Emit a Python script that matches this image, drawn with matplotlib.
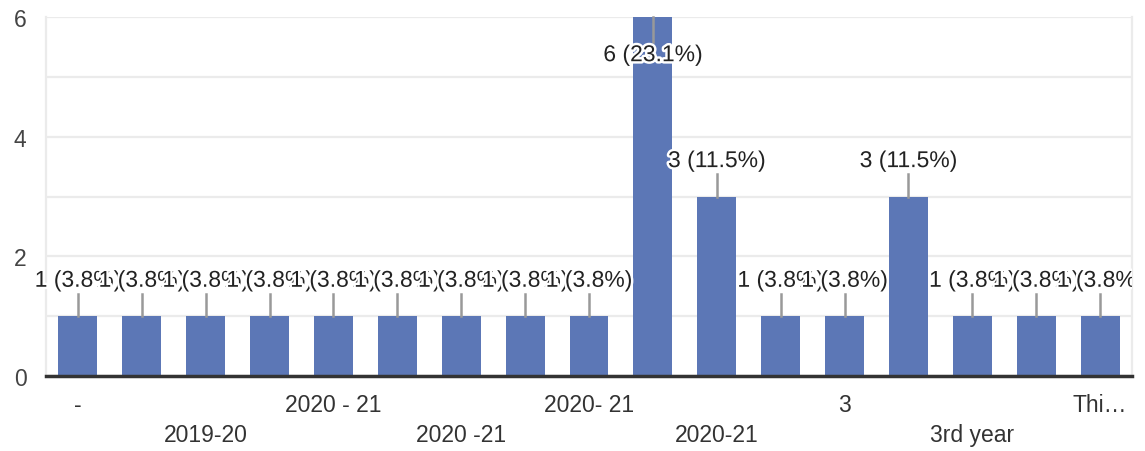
import matplotlib.pyplot as plt
import matplotlib.patheffects as pe
from matplotlib.transforms import Bbox, TransformedBbox
import numpy as np

plt.rcParams['font.family'] = ['Liberation Sans', 'DejaVu Sans']

# data
categories = ["-", "2019", "2019-20", "2020", "2020 - 21", "2020 - 2021", "2020 -21", "2020 -2021",
              "2020- 21", "2020-2021", "2020-21", "2021", "3", "3rd", "3rd year", "Third", "Thi…"]
counts = [1, 1, 1, 1, 1, 1, 1, 1, 1, 6, 3, 1, 1, 3, 1, 1, 1]
total = sum(counts)

bar_color = '#5c77b6'
x = np.arange(len(counts))

fig = plt.figure(figsize=(11.45, 4.52), dpi=100)
ax = fig.add_axes([46 / 1145, 75 / 452, 1086 / 1145, 359 / 452])

ax.bar(x, counts, width=0.61, color=bar_color, zorder=2)
ax.set_xlim(-0.5, len(counts) - 0.5)
ax.set_ylim(0, 6)

# grid
ax.set_yticks([0, 2, 4, 6])
ax.set_yticks([1, 3, 5], minor=True)
ax.grid(axis='y', which='both', color='#ebebeb', linewidth=1.6, zorder=0)
ax.tick_params(axis='y', which='both', length=0, pad=14, labelsize=16.5, labelcolor='#444444')
for s in ['left', 'right']:
    ax.spines[s].set_color('#ebebeb')
    ax.spines[s].set_linewidth(1.6)
ax.spines['top'].set_visible(False)
ax.spines['bottom'].set_color('#333333')
ax.spines['bottom'].set_linewidth(2.5)
ax.spines['bottom'].set_zorder(4)

# x labels: every other category, on two alternating rows
labels = []
for i, c in enumerate(categories):
    if i % 2:
        labels.append('')
    elif (i // 2) % 2:
        labels.append('\n' + c)
    else:
        labels.append(c)
ax.set_xticks(x, labels)
ax.tick_params(axis='x', length=0, pad=12, labelsize=16.5, labelcolor='#333333')
plt.setp(ax.get_xticklabels(), linespacing=1.4)

# value labels
clip = TransformedBbox(Bbox([[0, 0], [1132 / 1145, 1]]), fig.transFigure)
for i, v in enumerate(counts):
    txt = f"{v} ({v / total * 100:.1f}%)"
    if v >= 6:
        ax.plot([i, i], [v, v - 0.42], color='#999999', lw=1.8, zorder=3, clip_on=False)
        ty = v - 0.63
    else:
        ax.plot([i, i], [v, v + 0.37], color='#999999', lw=1.8, zorder=3)
        ty = v + 0.6
    t = ax.text(i, ty, txt, ha='center', va='center', fontsize=16.5, color='#222222', zorder=5,
                path_effects=[pe.withStroke(linewidth=3.5, foreground='white')])
    t.set_clip_box(clip)
    t.set_clip_on(True)

plt.savefig('out.png', dpi=100)
